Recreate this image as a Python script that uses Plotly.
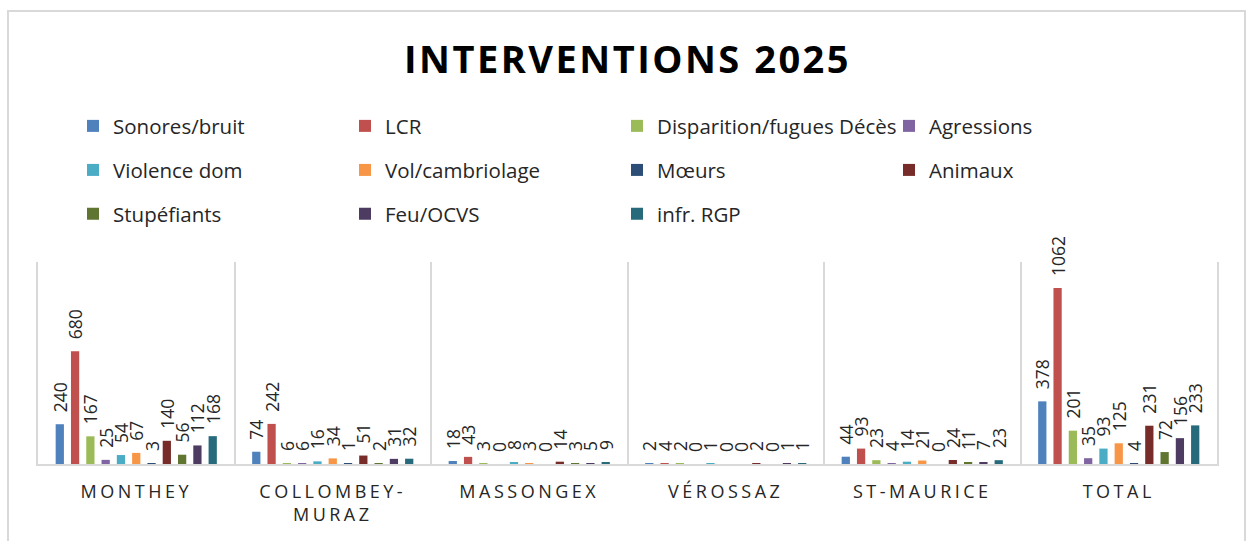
import plotly.graph_objects as go

# ---- data ----
categories = ["MONTHEY", "COLLOMBEY-MURAZ", "MASSONGEX", "VÉROSSAZ", "ST-MAURICE", "TOTAL"]
tick_labels = ["MONTHEY", "COLLOMBEY-<br>MURAZ", "MASSONGEX", "VÉROSSAZ", "ST-MAURICE", "TOTAL"]

series_names = ["Sonores/bruit", "LCR", "Disparition/fugues Décès", "Agressions",
                "Violence dom", "Vol/cambriolage", "Mœurs", "Animaux",
                "Stupéfiants", "Feu/OCVS", "infr. RGP"]

sonores = [240, 74, 18, 2, 44, 378]
lcr = [680, 242, 43, 4, 93, 1062]
disparition = [167, 6, 3, 2, 23, 201]
agressions = [25, 6, 0, 0, 4, 35]
violence = [54, 16, 8, 1, 14, 93]
vol = [67, 34, 3, 0, 21, 125]
moeurs = [3, 1, 0, 0, 0, 4]
animaux = [140, 51, 14, 2, 24, 231]
stupefiants = [56, 2, 3, 0, 11, 72]
feu = [112, 31, 5, 1, 7, 156]
rgp = [168, 32, 9, 1, 23, 233]

series_values = [sonores, lcr, disparition, agressions, violence, vol,
                 moeurs, animaux, stupefiants, feu, rgp]

colors = ["#4F81BD", "#C0504D", "#9BBB59", "#8064A2", "#4BACC6", "#F79646",
          "#2C4D75", "#772C2A", "#5F7530", "#4D3B62", "#276A7C"]

legend_of = ["legend"] * 4 + ["legend2"] * 4 + ["legend3"] * 3

FONT = "Open Sans"
TXT = "#262626"
GRID = "#D9D9D9"

fig = go.Figure()
for name, vals, col, lg in zip(series_names, series_values, colors, legend_of):
    fig.add_trace(go.Bar(
        name=name, x=categories, y=vals,
        marker=dict(color=col, line=dict(width=0)),
        text=vals,
        texttemplate="\u00a0\u00a0%{y}",
        textposition="outside", textangle=-90,
        constraintext="none", cliponaxis=False,
        textfont=dict(family=FONT, size=17.5, color=TXT),
        legend=lg, hoverinfo="skip",
    ))

leg_common = dict(orientation="h", x=0.0297, xanchor="left", yanchor="middle",
                  entrywidth=227, entrywidthmode="pixels",
                  font=dict(family=FONT, size=20.5, color=TXT),
                  bgcolor="rgba(0,0,0,0)", borderwidth=0, traceorder="normal")

fig.update_layout(
    width=1250, height=541,
    margin=dict(l=38, r=33, t=262, b=77),
    paper_bgcolor="white", plot_bgcolor="white",
    barmode="group", bargap=0.144, bargroupgap=0.46,
    title=dict(text="<b>INTERVENTIONS 2025</b>", x=0.5, xref="paper", xanchor="center",
               y=1 - 60 / 541, yref="container", yanchor="middle",
               font=dict(family=FONT, size=38, color="#000000")),
    legend=dict(y=1.673, **leg_common),
    legend2=dict(y=1.455, **leg_common),
    legend3=dict(y=1.238, **leg_common),
    xaxis=dict(type="category", tickson="boundaries", showgrid=True,
               gridcolor=GRID, gridwidth=2,
               showline=True, linecolor=GRID, linewidth=2,
               ticks="", tickvals=categories, ticktext=tick_labels,
               tickfont=dict(family=FONT, size=18, color=TXT),
               ticklabelstandoff=10, fixedrange=True),
    yaxis=dict(range=[0, 1219], showgrid=False, zeroline=False,
               showline=True, mirror=True, linecolor=GRID, linewidth=2,
               ticks="", showticklabels=False, fixedrange=True),
    shapes=[dict(type="rect", xref="paper", yref="paper",
                 x0=(8 - 38) / 1179, x1=(1245 - 38) / 1179,
                 y0=(464 - 560) / 202, y1=(464 - 11) / 202,
                 line=dict(color=GRID, width=2), fillcolor="rgba(0,0,0,0)",
                 layer="below")],
    showlegend=True,
)

post = """
document.body.style.margin = '0';
document.body.style.padding = '0';
var gd = document.getElementById('{plot_id}');
gd.querySelectorAll('.xtick text').forEach(function(t){ t.style.letterSpacing = '3.5px'; });
var tt = gd.querySelector('.gtitle'); if (tt) { tt.style.letterSpacing = '2.5px'; }
"""

fig.write_html("out.html", post_script=post, config={"displayModeBar": False})
